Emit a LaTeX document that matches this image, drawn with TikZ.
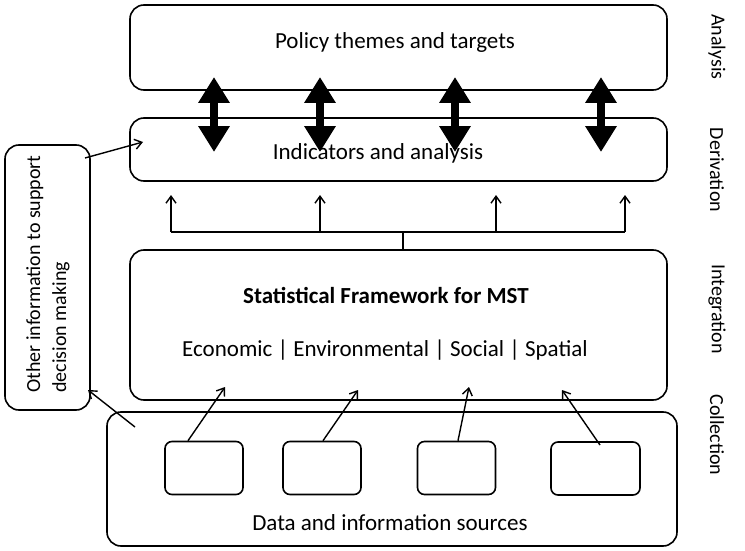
\documentclass[tikz,border=0pt]{standalone}
\usepackage{fontspec}
\setmainfont{Carlito}
\usetikzlibrary{arrows.meta,calc}
\tikzset{
    box/.style={draw, line width=1.6pt, rounded corners=14pt, align=center},
    srcbox/.style={draw, line width=1.6pt, rounded corners=7pt,
                   minimum width=78pt, minimum height=53pt},
    flow/.style={-{Straight Barb[length=7pt,width=10pt]}, line width=1.4pt},
    twoway/.style={{Triangle[length=26pt,width=30pt]}-{Triangle[length=26pt,width=30pt]},
                   line width=8pt},
    stage/.style={rotate=-90, anchor=center, font=\fontsize{20}{24}\selectfont},
}

\begin{document}
\begin{tikzpicture}[x=1pt, y=-1pt, font=\fontsize{23}{27}\selectfont]
    \useasboundingbox (0,0) rectangle (745,551);

    % the four levels
    \node[box, minimum width=537pt, minimum height=85pt] (policy) at (398.5,47.5) {};
    \node at (395,42) {Policy themes and targets};
    \node[box, minimum width=537pt, minimum height=63pt] (indic) at (398.5,149.5) {};
    \node at (378,153) {Indicators and analysis};
    \node[box, minimum width=537pt, minimum height=150pt] (frame) at (398.5,325) {};
    \node[font=\fontsize{23}{27}\selectfont\bfseries] (frametitle) at (386,295) {Statistical Framework for MST};
    \node (domains) at (385,350) {Economic | Environmental | Social | Spatial};
    \node[box, minimum width=570pt, minimum height=134pt] (data) at (392,479) {};
    \node (datatext) at (390,523) {Data and information sources};

    % source boxes
    \node[srcbox] (src1) at (204,468) {};
    \node[srcbox] (src2) at (322,468) {};
    \node[srcbox] (src3) at (456.5,468) {};
    \node[srcbox, minimum width=89pt] (src4) at (595.5,468.5) {};

    % other information
    \node[box, minimum width=85pt, minimum height=265pt] (other) at (47.5,277.5) {};
    \node[rotate=90, align=left, font=\fontsize{20}{26}\selectfont] (othertext) at (48,274) {Other information to support\\decision making};

    % stage labels
    \node[stage] (analysis) at (717,47) {Analysis};
    \node[stage] (deriv) at (717,170) {Derivation};
    \node[stage] (integ) at (717,309) {Integration};
    \node[stage] (collect) at (717,435) {Collection};

    % two-way links policy <-> indicators
    \foreach \x in {214,320,455,601}
        \draw[twoway] (\x,77) -- (\x,152);

    % framework feeds indicators
    \coordinate (fork) at (403,232);
    \draw[line width=1.4pt] (frame.north -| fork) -- (fork);
    \draw[line width=1.4pt] (171,232) -- (625,232);
    \foreach \x in {171,320,496,625}
        \draw[flow] (\x,232) -- (\x,195);

    % sources feed framework
    \draw[flow] (src1.north -| 188,0) -- (225,387);
    \draw[flow] (src2.north -| 323,0) -- (358,390);
    \draw[flow] (src3.north -| 458,0) -- (469,387);
    \draw[flow] (600,445) -- (562,390);

    % other information links
    \draw[flow] (85,158) -- (143,142);
    \draw[flow] (135,427) -- (88,390);

\end{tikzpicture}
\end{document}
